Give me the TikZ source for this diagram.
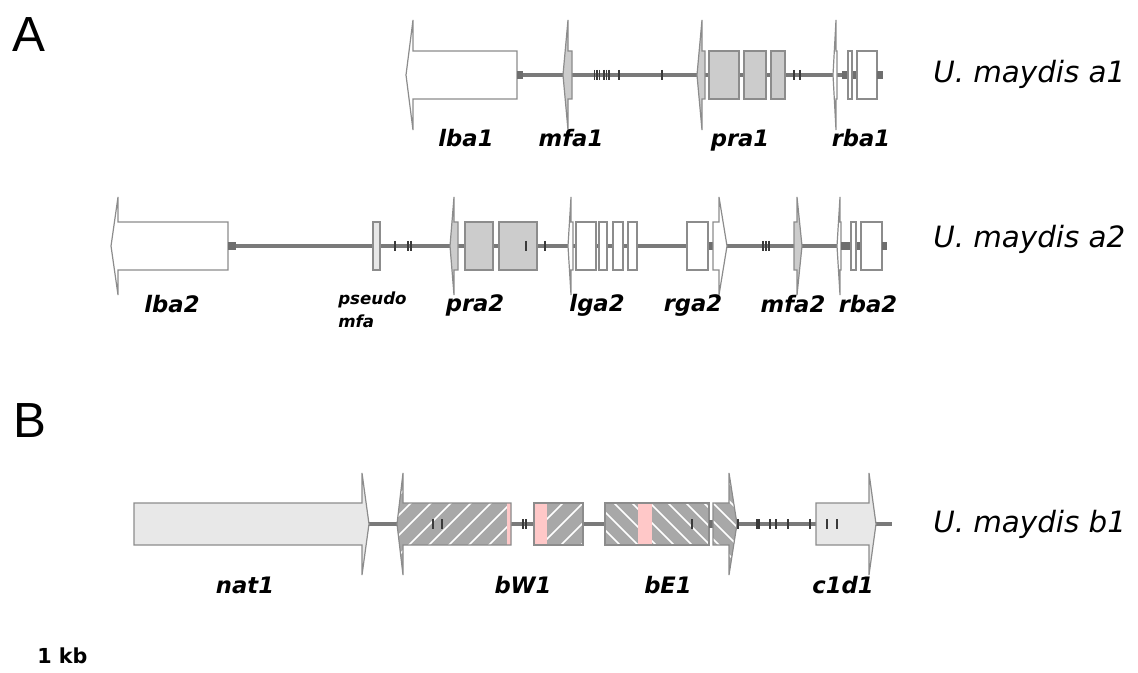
\documentclass[tikz,border=0pt]{standalone}
\usepackage{fontspec}
\setmainfont{DejaVu Sans}
\newfontfamily\letterfont{Liberation Sans}
\definecolor{axisc}{HTML}{7A7A7A}
\definecolor{outc}{HTML}{8C8C8C}
\definecolor{geneg}{HTML}{CCCCCC}
\definecolor{lightg}{HTML}{E8E8E8}
\definecolor{darkc}{HTML}{6E6E6E}
\definecolor{tickc}{HTML}{3A3A3A}
\definecolor{hatchg}{HTML}{A8A8A8}
\definecolor{pinkc}{HTML}{FFC8C8}
% left-pointing gene arrow: #1 command, #2 tip x, #3 flap x, #4 body end x
\newcommand\pL[4]{#1 (#4,{\ay-\bh}) -- (#3,{\ay-\bh}) -- (#3,{\ay-\fh}) -- (#2,\ay) -- (#3,{\ay+\fh}) -- (#3,{\ay+\bh}) -- (#4,{\ay+\bh}) -- cycle;}
% right-pointing gene arrow: #1 command, #2 body start x, #3 flap x, #4 tip x
\newcommand\pR[4]{#1 (#2,{\ay-\bh}) -- (#3,{\ay-\bh}) -- (#3,{\ay-\fh}) -- (#4,\ay) -- (#3,{\ay+\fh}) -- (#3,{\ay+\bh}) -- (#2,{\ay+\bh}) -- cycle;}
\newcommand\bx[3]{\filldraw[gout,fill=#3] (#1,{\ay-\bh}) rectangle (#2,{\ay+\bh});}
\newcommand\dk[2]{\fill[darkc] (#1,{\ay-4}) rectangle (#2,{\ay+4});}
\newcommand\tk[1]{\draw[tk] (#1,{\ay-5}) -- (#1,{\ay+5});}
\tikzset{
  axis/.style={draw=axisc,line width=2.3pt},
  gout/.style={draw=outc,line width=0.9pt,line join=miter},
  tk/.style={draw=tickc,line width=0.9pt},
  hl/.style={draw=white,line width=1.3pt},
  glab/.style={font=\fontsize{17}{17}\selectfont\bfseries\itshape,anchor=base,inner sep=0pt},
  plab/.style={font=\fontsize{12.5}{12.5}\selectfont\bfseries\itshape,anchor=base west,inner sep=0pt},
  slab/.style={font=\fontsize{22}{22}\selectfont\itshape,anchor=base west,inner sep=0pt},
  letter/.style={font=\letterfont\fontsize{37}{37}\selectfont,anchor=base west,inner sep=0pt},
  kb/.style={font=\fontsize{15.5}{15.5}\selectfont\bfseries,anchor=base west,inner sep=0pt},
}
\begin{document}
\begin{tikzpicture}[x=0.75pt,y=-0.75pt]
\useasboundingbox (0,0) rectangle (1138,673);

% ---------------- Row A1 ----------------
\def\ay{75}\def\bh{24}\def\fh{55}
\draw[axis] (517,\ay) -- (883,\ay);
\pL{\filldraw[gout,fill=white]}{406}{413}{517}
\dk{517}{523}
\pL{\filldraw[gout,fill=geneg]}{563}{568}{572}
\foreach \x in {594.5,597,599.5,604,606.5,609,619,662} {\tk{\x}}
\pL{\filldraw[gout,fill=geneg]}{697}{702}{705}
\bx{709}{739}{geneg}
\bx{744}{766}{geneg}
\bx{771}{785}{geneg}
\tk{794}\tk{800}
\pL{\filldraw[gout,fill=white]}{833}{836}{837}
\dk{842}{859}
\bx{848}{852}{white}
\bx{857}{877}{white}
\dk{877}{883}
\node[glab] (lba1) at (466,147) {lba1};
\node[glab] (mfa1) at (571,147) {mfa1};
\node[glab] (pra1) at (740,147) {pra1};
\node[glab] (rba1) at (861,147) {rba1};
\node[slab] (a1) at (933,83) {U. maydis a1};

% ---------------- Row A2 ----------------
\def\ay{246}\def\bh{24}\def\fh{49}
\draw[axis] (228,\ay) -- (887,\ay);
\pL{\filldraw[gout,fill=white]}{111}{118}{228}
\dk{228}{236}
\bx{373}{380}{lightg}
\tk{395}\tk{408}\tk{411}
\pL{\filldraw[gout,fill=geneg]}{450}{454}{458}
\bx{465}{493}{geneg}
\bx{499}{537}{geneg}
\tk{526}\tk{545}
\pL{\filldraw[gout,fill=white]}{568}{571}{573}
\bx{576}{596}{white}
\bx{599}{607}{white}
\bx{613}{623}{white}
\bx{628}{637}{white}
\dk{706}{714}
\bx{687}{708}{white}
\pR{\filldraw[gout,fill=white]}{713}{719}{727}
\tk{763}\tk{766}\tk{769}
\pR{\filldraw[gout,fill=geneg]}{794}{797}{802}
\pL{\filldraw[gout,fill=white]}{837}{840}{841}
\dk{841}{863}
\bx{851}{856}{white}
\bx{861}{882}{white}
\dk{882}{887}
\node[glab] (lba2) at (172,313) {lba2};
\node[plab] (pseudo) at (338,305) {pseudo};
\node[plab] (pmfa) at (338,328) {mfa};
\node[glab] (pra2) at (475,312) {pra2};
\node[glab] (lga2) at (597,312) {lga2};
\node[glab] (rga2) at (693,312) {rga2};
\node[glab] (mfa2) at (793,313) {mfa2};
\node[glab] (rba2) at (868,313) {rba2};
\node[slab] (a2) at (933,248) {U. maydis a2};

% ---------------- Row B ----------------
\def\ay{524}\def\bh{21}\def\fh{51}
\draw[axis] (362,\ay) -- (892,\ay);
\pR{\filldraw[gout,fill=lightg]}{134}{362}{369}
% bW1 first exon (arrow)
\begin{scope}
  \pL{\clip}{397}{403}{511}
  \fill[hatchg] (390,460) rectangle (520,590);
  \foreach \x in {270,290,...,530} {\draw[hl] (\x,{\ay+60}) -- ++(120,-120);}
\end{scope}
\fill[pinkc] (507,503) rectangle (511,545);
\pL{\draw[gout]}{397}{403}{511}
\draw[tk] (433,519) -- (433,529);
\draw[tk] (442,519) -- (442,529);
\tk{523}\tk{526}
% bW1 second exon
\begin{scope}
  \clip (534,503) rectangle (583,545);
  \fill[hatchg] (530,500) rectangle (590,550);
  \foreach \x in {422,442,...,602} {\draw[hl] (\x,{\ay+60}) -- ++(120,-120);}
\end{scope}
\fill[pinkc] (534,503) rectangle (547,545);
\draw[gout] (534,503) rectangle (583,545);
% bE1 exon
\begin{scope}
  \clip (605,503) rectangle (709,545);
  \fill[hatchg] (600,500) rectangle (715,550);
  \foreach \x in {485,503,...,720} {\draw[hl] (\x,{\ay-60}) -- ++(120,120);}
\end{scope}
\fill[pinkc] (638,503) rectangle (652,545);
\draw[gout] (605,503) rectangle (709,545);
\draw[tk] (692,519) -- (692,529);
\dk{709}{713}
% bE1 arrow part
\begin{scope}
  \pR{\clip}{713}{729}{737}
  \fill[hatchg] (705,460) rectangle (745,590);
  \foreach \x in {602,620,...,745} {\draw[hl] (\x,{\ay-60}) -- ++(120,120);}
\end{scope}
\pR{\draw[gout]}{713}{729}{737}
\foreach \x in {738,757,759,770,776,788,810} {\tk{\x}}
\pR{\filldraw[gout,fill=lightg]}{816}{869}{876}
\tk{827}\tk{837}
\node[glab] (nat1) at (245,593) {nat1};
\node[glab] (bW1) at (523,593) {bW1};
\node[glab] (bE1) at (668,593) {bE1};
\node[glab] (c1d1) at (843,593) {c1d1};
\node[slab] (b1) at (933,532) {U. maydis b1};

% ---------------- Panel letters and scale ----------------
\node[letter] (A) at (12,52) {A};
\node[letter] (B) at (13,437) {B};
\node[kb] (kb) at (37,663) {1 kb};
\end{tikzpicture}
\end{document}
